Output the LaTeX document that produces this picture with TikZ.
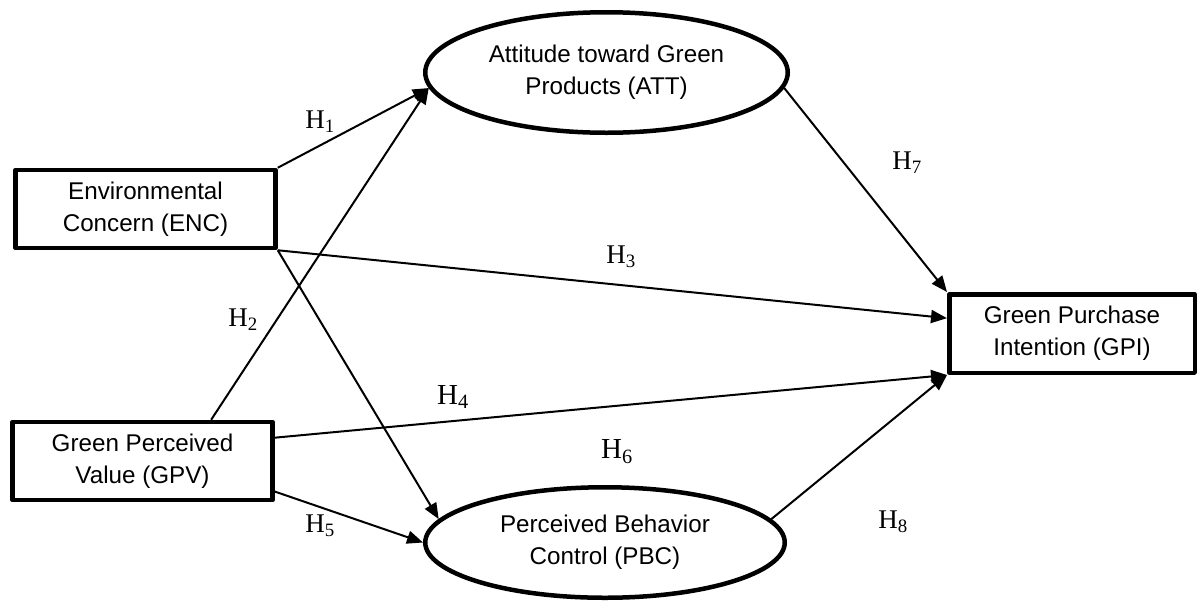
\documentclass[tikz,border=0pt]{standalone}
\usepackage{fontspec}
\setmainfont{Liberation Sans}
\newfontfamily\hypfont{Liberation Serif}
\usetikzlibrary{arrows.meta,shapes.geometric}
\tikzset{
  construct/.style={draw,rectangle,line width=4.5pt,line join=round,inner sep=0pt,
    minimum width=260pt,minimum height=78pt,align=center,
    font=\fontsize{24.2}{32}\selectfont},
  latent/.style={draw,ellipse,line width=4.5pt,inner sep=0pt,align=center,
    font=\fontsize{24.2}{32}\selectfont},
  link/.style={line width=2pt,-{Triangle[length=16pt,width=13pt]}},
  hyp/.style={font=\hypfont\fontsize{27}{30}\selectfont},
  bighyp/.style={font=\hypfont\fontsize{29}{32}\selectfont}
}
\begin{document}
\begin{tikzpicture}[x=1pt,y=-1pt]
\useasboundingbox(0,0)rectangle(1201,603);
%constructs
\node[construct](enc)at(145.5,209){Environmental\\Concern (ENC)};
\node[construct](gpv)at(142.5,461){Green Perceived\\Value (GPV)};
\node[construct,minimum width=245.5pt,minimum height=78.5pt](gpi)at(1072,333.5){Green Purchase\\Intention (GPI)};
\node[latent,minimum width=362.5pt,minimum height=120.5pt](att)at(606.5,72.5){Attitude toward Green\\Products (ATT)};
\node[latent,minimum width=359.5pt,minimum height=110.5pt](pbc)at(605,542.5){Perceived Behavior\\Control (PBC)};
%paths
\draw[link](enc.north east)--(att.185);
\draw[link](gpv.31)--(att.185);
\draw[link](enc.south east)--(gpi.173);
\draw[link](gpv.10)--(gpi.south west);
\draw[link](gpv.-13)--(pbc.west);
\draw[link](enc.south east)--(pbc.172);
\draw[link](att.-5)--(gpi.north west);
\draw[link](pbc.8)--(gpi.south west);
%hypotheses
\node[hyp](h1)at(320,122){H\textsubscript{1}};
\node[hyp](h2)at(243,320){H\textsubscript{2}};
\node[hyp](h3)at(621,257){H\textsubscript{3}};
\node[bighyp](h4)at(453,397){H\textsubscript{4}};
\node[hyp](h5)at(320,526){H\textsubscript{5}};
\node[bighyp](h6)at(617,452){H\textsubscript{6}};
\node[hyp](h7)at(907,163){H\textsubscript{7}};
\node[hyp](h8)at(893,522){H\textsubscript{8}};
\end{tikzpicture}
\end{document}
